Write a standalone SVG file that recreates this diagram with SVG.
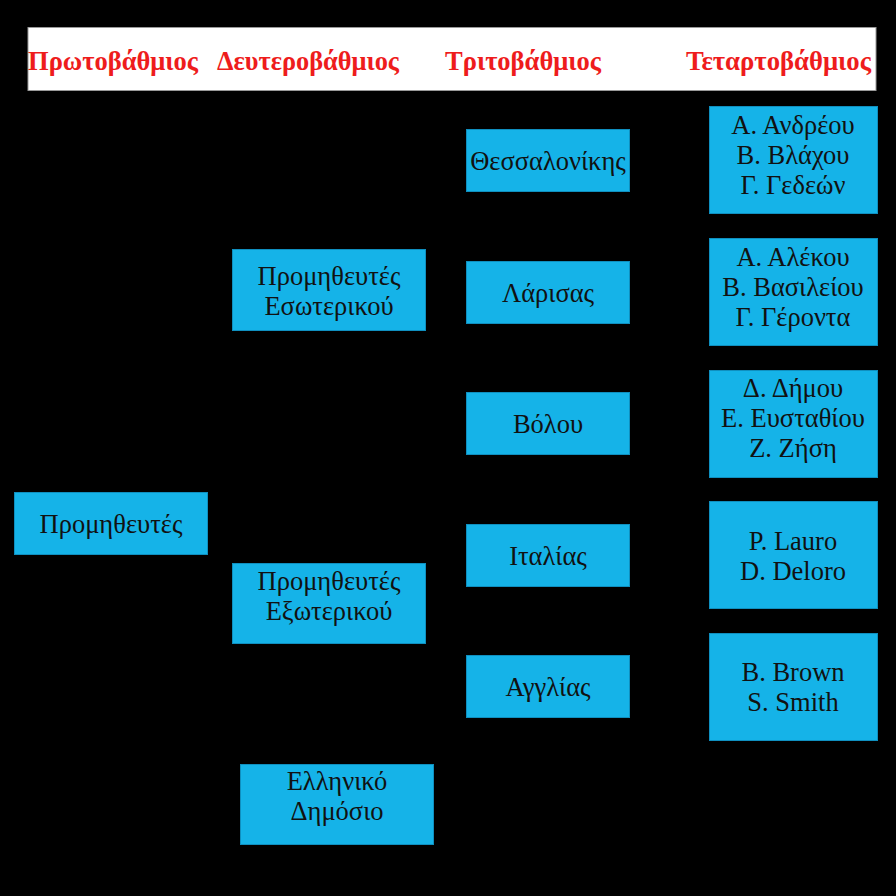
<svg xmlns="http://www.w3.org/2000/svg" width="896" height="896" viewBox="0 0 896 896">
<style>
.bg{fill:#000}
.hdr{fill:#fff;stroke:#999;stroke-width:1}
.h{font-family:"Liberation Serif","Times New Roman",serif;font-weight:bold;font-size:27px;fill:#ee1c1c;text-anchor:middle}
.box{fill:#15b3e8;stroke:#0f8fbf;stroke-width:1}
.t{font-family:"Liberation Serif","Times New Roman",serif;font-size:26.5px;fill:#111;text-anchor:middle}
</style>
<rect class="bg" x="0" y="0" width="896" height="896"/>
<g id="header">
<rect class="hdr" x="28" y="27.5" width="848" height="63"/>
<text class="h" x="113" y="70" textLength="170" lengthAdjust="spacingAndGlyphs">Πρωτοβάθμιος</text>
<text class="h" x="308" y="70" textLength="182" lengthAdjust="spacingAndGlyphs">Δευτεροβάθμιος</text>
<text class="h" x="523" y="70" textLength="156" lengthAdjust="spacingAndGlyphs">Τριτοβάθμιος</text>
<text class="h" x="778.5" y="70" textLength="185" lengthAdjust="spacingAndGlyphs">Τεταρτοβάθμιος</text>
</g>
<g id="connectors"></g>
<g id="n-root"><rect class="box" x="14.5" y="492.5" width="193" height="62"/><text class="t" x="111" y="533">Προμηθευτές</text></g>
<g id="n-eso"><rect class="box" x="232.5" y="249.5" width="193" height="81"/><text class="t" x="329" y="285">Προμηθευτές</text><text class="t" x="329" y="315">Εσωτερικού</text></g>
<g id="n-exo"><rect class="box" x="232.5" y="563.5" width="193" height="80"/><text class="t" x="329" y="590">Προμηθευτές</text><text class="t" x="329" y="620">Εξωτερικού</text></g>
<g id="n-dim"><rect class="box" x="240.5" y="764.5" width="193" height="80"/><text class="t" x="337" y="790">Ελληνικό</text><text class="t" x="337" y="820">Δημόσιο</text></g>
<g id="n-thes"><rect class="box" x="466.5" y="129.5" width="163" height="62"/><text class="t" x="548" y="170">Θεσσαλονίκης</text></g>
<g id="n-lar"><rect class="box" x="466.5" y="261.5" width="163" height="62"/><text class="t" x="548" y="302">Λάρισας</text></g>
<g id="n-vol"><rect class="box" x="466.5" y="392.5" width="163" height="62"/><text class="t" x="548" y="433">Βόλου</text></g>
<g id="n-ita"><rect class="box" x="466.5" y="524.5" width="163" height="62"/><text class="t" x="548" y="565">Ιταλίας</text></g>
<g id="n-ang"><rect class="box" x="466.5" y="655.5" width="163" height="62"/><text class="t" x="548" y="696">Αγγλίας</text></g>
<g id="q1"><rect class="box" x="709.5" y="106.5" width="168" height="107"/><text class="t" x="793" y="134">Α. Ανδρέου</text><text class="t" x="793" y="164">Β. Βλάχου</text><text class="t" x="793" y="194">Γ. Γεδεών</text></g>
<g id="q2"><rect class="box" x="709.5" y="238.5" width="168" height="107"/><text class="t" x="793" y="266">Α. Αλέκου</text><text class="t" x="793" y="296">Β. Βασιλείου</text><text class="t" x="793" y="326">Γ. Γέροντα</text></g>
<g id="q3"><rect class="box" x="709.5" y="370.5" width="168" height="107"/><text class="t" x="793" y="397">Δ. Δήμου</text><text class="t" x="793" y="427">Ε. Ευσταθίου</text><text class="t" x="793" y="457">Ζ. Ζήση</text></g>
<g id="q4"><rect class="box" x="709.5" y="501.5" width="168" height="107"/><text class="t" x="793" y="550">P. Lauro</text><text class="t" x="793" y="580">D. Deloro</text></g>
<g id="q5"><rect class="box" x="709.5" y="633.5" width="168" height="107"/><text class="t" x="793" y="681">B. Brown</text><text class="t" x="793" y="711">S. Smith</text></g>
</svg>
